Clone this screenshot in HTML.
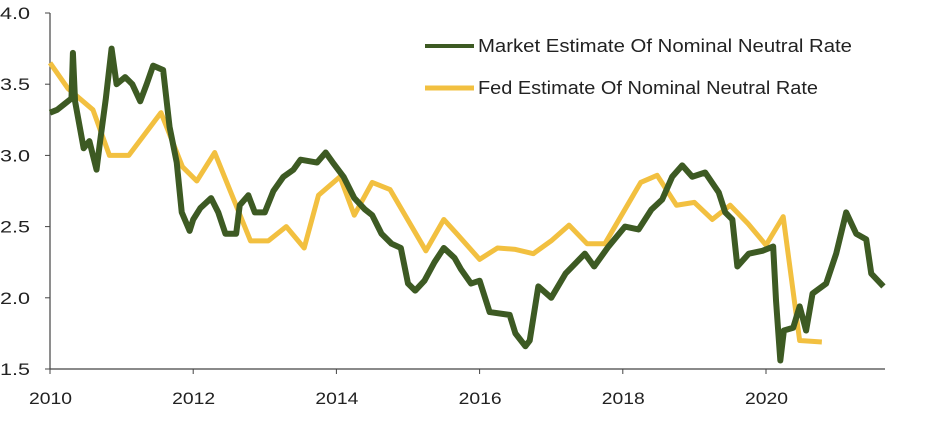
<!DOCTYPE html>
<html><head><meta charset="utf-8"><style>
html,body{margin:0;padding:0;background:#fff;}
svg{display:block;font-family:"Liberation Sans",sans-serif;}
</style></head><body>
<svg id="chart" width="942" height="434"></svg>
<script>
const yTicks = [1.5, 2.0, 2.5, 3.0, 3.5, 4.0];
const xTicks = [2010, 2012, 2014, 2016, 2018, 2020];
const marketYears = [2010.0,2010.1,2010.2,2010.3,2010.32,2010.35,2010.47,2010.55,2010.65,2010.7,2010.78,2010.86,2010.93,2011.05,2011.15,2011.26,2011.35,2011.44,2011.58,2011.67,2011.77,2011.84,2011.95,2012.0,2012.1,2012.25,2012.35,2012.45,2012.6,2012.65,2012.77,2012.86,2013.0,2013.12,2013.26,2013.4,2013.5,2013.73,2013.85,2013.95,2014.1,2014.25,2014.4,2014.5,2014.63,2014.77,2014.9,2015.0,2015.1,2015.23,2015.37,2015.5,2015.65,2015.74,2015.88,2016.0,2016.14,2016.42,2016.5,2016.64,2016.7,2016.82,2017.0,2017.2,2017.47,2017.6,2017.8,2018.03,2018.22,2018.4,2018.55,2018.69,2018.83,2018.97,2019.15,2019.34,2019.43,2019.53,2019.6,2019.76,2019.95,2020.1,2020.14,2020.2,2020.25,2020.38,2020.47,2020.56,2020.65,2020.84,2020.98,2021.12,2021.26,2021.4,2021.47,2021.64];
const marketValues = [3.3,3.32,3.36,3.4,3.72,3.38,3.05,3.1,2.9,3.1,3.4,3.75,3.5,3.55,3.5,3.38,3.5,3.63,3.6,3.2,2.95,2.6,2.47,2.55,2.63,2.7,2.6,2.45,2.45,2.65,2.72,2.6,2.6,2.75,2.85,2.9,2.97,2.95,3.02,2.95,2.85,2.7,2.62,2.58,2.45,2.38,2.35,2.1,2.05,2.12,2.25,2.35,2.28,2.2,2.1,2.12,1.9,1.88,1.75,1.66,1.7,2.08,2.0,2.17,2.31,2.22,2.36,2.5,2.48,2.62,2.69,2.85,2.93,2.85,2.88,2.74,2.6,2.55,2.22,2.31,2.33,2.36,1.98,1.56,1.77,1.79,1.94,1.77,2.03,2.1,2.31,2.6,2.45,2.41,2.17,2.08];
const fedYears = [2010.0,2010.25,2010.6,2010.83,2011.1,2011.55,2011.85,2012.05,2012.3,2012.8,2013.05,2013.3,2013.55,2013.75,2014.05,2014.25,2014.5,2014.75,2015.25,2015.5,2015.7,2016.0,2016.25,2016.5,2016.75,2017.0,2017.25,2017.5,2017.75,2018.25,2018.48,2018.75,2019.0,2019.25,2019.5,2019.75,2020.0,2020.24,2020.47,2020.78];
const fedValues = [3.65,3.47,3.32,3.0,3.0,3.3,2.92,2.82,3.02,2.4,2.4,2.5,2.35,2.72,2.85,2.58,2.81,2.76,2.33,2.55,2.44,2.27,2.35,2.34,2.31,2.4,2.51,2.38,2.38,2.81,2.86,2.65,2.67,2.55,2.65,2.52,2.37,2.57,1.7,1.69];

const NS='http://www.w3.org/2000/svg';
const svg=document.getElementById('chart');
const x=v=>50+(v-2010)*71.6;
const y=v=>369-(v-1.5)*142.4;
function mk(t,a){const e=document.createElementNS(NS,t);for(const k in a)e.setAttribute(k,a[k]);svg.appendChild(e);return e;}

const yAxis=mk('line',{x1:50,y1:13,x2:50,y2:369,stroke:'#444','stroke-width':1.2});


const xAxis=mk('line',{x1:50,y1:369,x2:885,y2:369,stroke:'#444','stroke-width':1.2});



yTicks.forEach(v=>{
  mk('line',{x1:45,y1:y(v),x2:50,y2:y(v),stroke:'#444'});
  const t=mk('text',{x:30,y:y(v)+6,'text-anchor':'end','font-size':17,fill:'#222',textLength:30,lengthAdjust:'spacingAndGlyphs'});
  t.textContent=v.toFixed(1);
  
  
});
xTicks.forEach(v=>{
  mk('line',{x1:x(v),y1:369,x2:x(v),y2:374,stroke:'#444'});
  const t=mk('text',{x:x(v)-21,y:404,'font-size':17,fill:'#222',textLength:43,lengthAdjust:'spacingAndGlyphs'});
  t.textContent=v;
  
  
});

const fed=mk('polyline',{points:fedYears.map((d,i)=>x(d)+','+y(fedValues[i])).join(' '),fill:'none',stroke:'#f2c040','stroke-width':5,'stroke-linejoin':'round'});


const mkt=mk('polyline',{points:marketYears.map((d,i)=>x(d)+','+y(marketValues[i])).join(' '),fill:'none',stroke:'#3d5a23','stroke-width':6,'stroke-linejoin':'round'});



const l1=mk('line',{x1:425,y1:46,x2:474,y2:46,stroke:'#3d5a23','stroke-width':4});


const t1=mk('text',{x:478,y:52,'font-size':18,fill:'#222',textLength:374,lengthAdjust:'spacingAndGlyphs'});
t1.textContent='Market Estimate Of Nominal Neutral Rate';


const l2=mk('line',{x1:425,y1:88,x2:474,y2:88,stroke:'#f2c040','stroke-width':5});


const t2=mk('text',{x:478,y:94,'font-size':18,fill:'#222',textLength:340,lengthAdjust:'spacingAndGlyphs'});
t2.textContent='Fed Estimate Of Nominal Neutral Rate';


</script>
</body></html>
